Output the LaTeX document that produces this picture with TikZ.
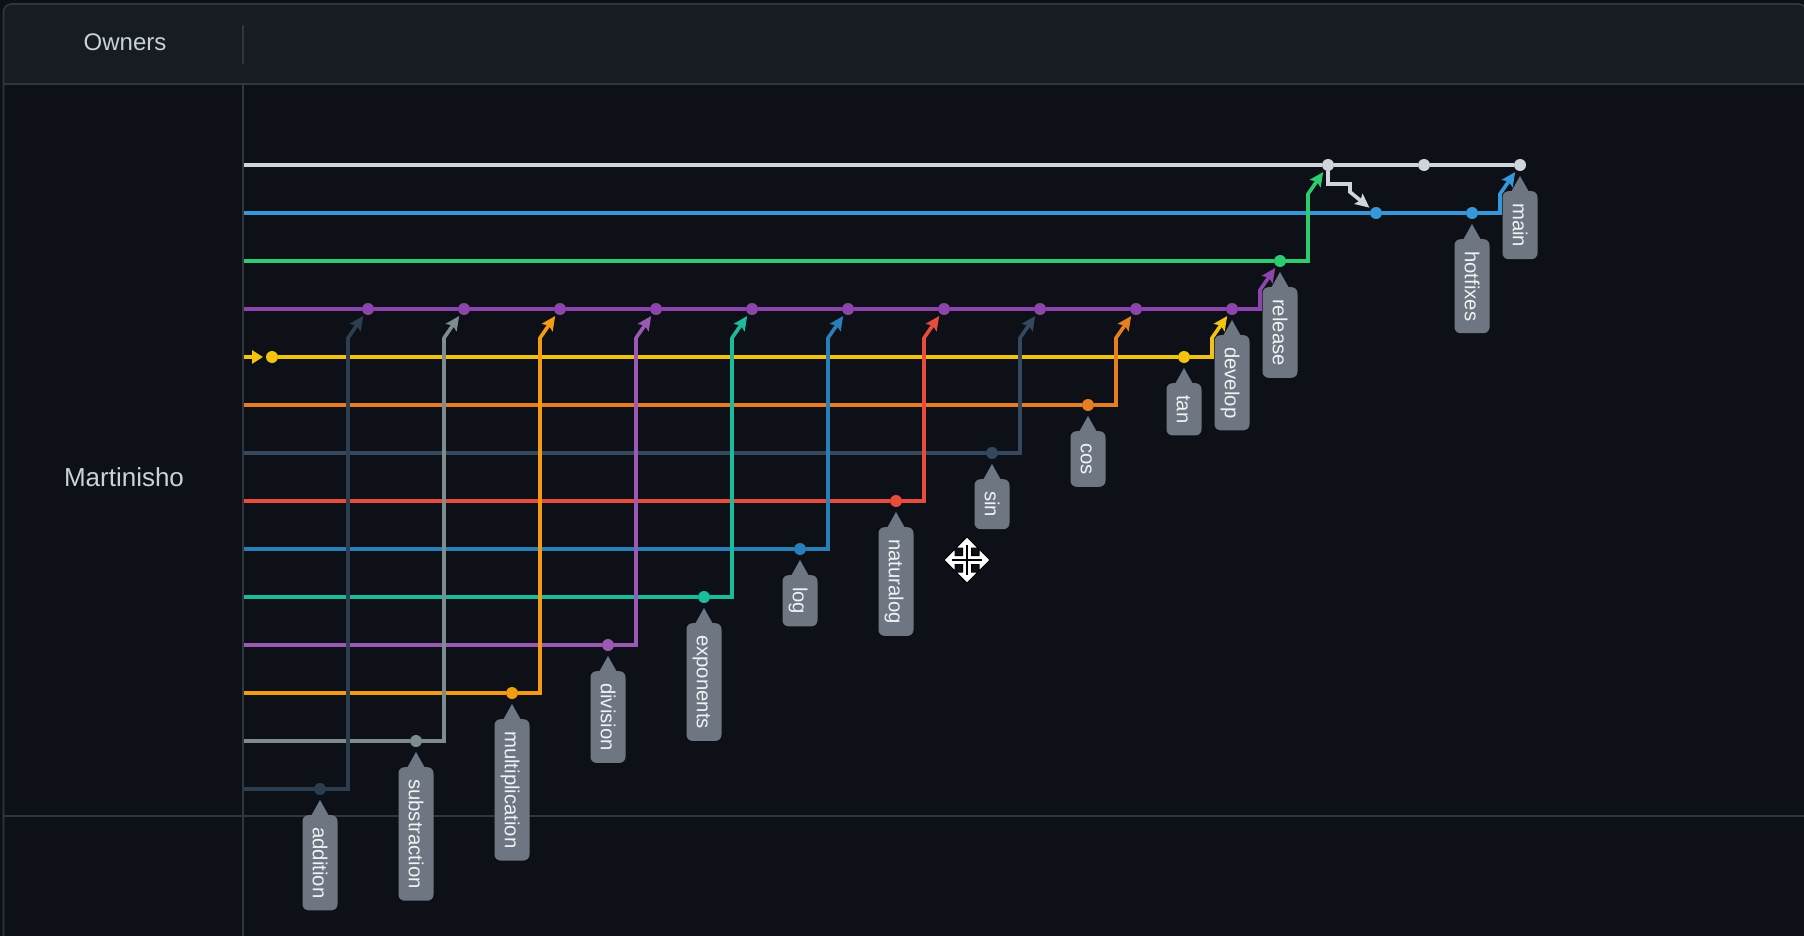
\documentclass[tikz,border=0pt]{standalone}
\usepackage{fontspec}
\setmainfont{Liberation Sans}
\usetikzlibrary{calc,arrows.meta}
\definecolor{bgpage}{HTML}{0D1117}
\definecolor{bghead}{HTML}{171B22}
\definecolor{bordc}{HTML}{30363D}
\definecolor{txtc}{HTML}{C9D1D9}
\definecolor{labc}{HTML}{6E7681}
\definecolor{labtxt}{HTML}{F0F3F6}
\definecolor{cmain}{HTML}{CFD5DB}
\definecolor{chot}{HTML}{3498DB}
\definecolor{crel}{HTML}{2ECC71}
\definecolor{cdev}{HTML}{8E44AD}
\definecolor{ctan}{HTML}{F1C40F}
\definecolor{ccos}{HTML}{E67E22}
\definecolor{csin}{HTML}{34495E}
\definecolor{cnat}{HTML}{E74C3C}
\definecolor{clog}{HTML}{2980B9}
\definecolor{cexp}{HTML}{1ABC9C}
\definecolor{cdiv}{HTML}{9B59B6}
\definecolor{cmul}{HTML}{F39C12}
\definecolor{csub}{HTML}{7F8C8D}
\definecolor{cadd}{HTML}{2C3E50}
\pgfdeclarelayer{back}
\pgfdeclarelayer{lines}
\pgfsetlayers{back,lines,main}
\tikzset{
  dot/.style={circle,fill=#1,inner sep=0pt,minimum size=12pt,outer sep=0pt},
  br/.style={draw=#1,line width=3.6pt},
  mg/.style={draw=#1,line width=3.6pt,-{Stealth[length=14pt,width=13pt,inset=2.5pt]},shorten >=2.5pt},
  lab/.style={rotate=-90,fill=labc,rounded corners=6pt,text=labtxt,
    font=\fontsize{20.3}{24}\selectfont,inner xsep=12pt,inner ysep=0pt,
    minimum height=35pt,text height=14.5pt,text depth=0pt,anchor=west},
  rowtext/.style={text=txtc,inner sep=0pt},
  rule/.style={draw=bordc,line width=1.6pt},
}
\newcommand\mergeto[3]{\draw[mg=#1] (#2) -- ($(#2 -| #3)+(-20,0)$) -- ($(#3)+(-20,29)$) -- (#3);}
\newcommand\brlabel[3]{%
  \fill[labc] ($(#1)+(-9,27)$) -- ($(#1)+(0,11)$) -- ($(#1)+(9,27)$) -- cycle;
  \node[lab] (#2) at ($(#1)+(0,26)$) {#3};}
\begin{document}
\begin{tikzpicture}[x=1pt,y=-1pt]
\useasboundingbox (0,0) rectangle (1804,936);
\begin{pgfonlayer}{back}
  \fill[bgpage] (0,0) rectangle (1804,936);
  \fill[bghead,rounded corners=8pt] (3.5,4) rectangle (1806,200);
  \fill[bgpage] (3.5,84) rectangle (1806,960);
  \draw[rule,rounded corners=8pt] (3.5,4) rectangle (1806.5,1000);
  \draw[rule] (3.5,84) -- (1806,84);
  \draw[rule] (3.5,816) -- (1806,816);
  \draw[rule] (243,84) -- (243,940);
  \draw[rule] (243,25) -- (243,64);
\end{pgfonlayer}
\node[rowtext,font=\fontsize{24}{28}\selectfont] (owners) at (125,42.5) {Owners};
\node[rowtext,font=\fontsize{26}{30}\selectfont] (martinisho) at (124,477) {Martinisho};
% start coordinates
\coordinate (s-main) at (244,165);
\coordinate (s-hot) at (244,213);
\coordinate (s-rel) at (244,261);
\coordinate (s-dev) at (244,309);
\coordinate (s-tan) at (244,357);
\coordinate (s-cos) at (244,405);
\coordinate (s-sin) at (244,453);
\coordinate (s-nat) at (244,501);
\coordinate (s-log) at (244,549);
\coordinate (s-exp) at (244,597);
\coordinate (s-div) at (244,645);
\coordinate (s-mul) at (244,693);
\coordinate (s-sub) at (244,741);
\coordinate (s-add) at (244,789);
% commits
\node[dot=cmain] (m1) at (1328,165) {};
\node[dot=cmain] (m2) at (1424,165) {};
\node[dot=cmain] (m3) at (1520,165) {};
\node[dot=chot] (h1) at (1376,213) {};
\node[dot=chot] (h2) at (1472,213) {};
\node[dot=crel] (r1) at (1280,261) {};
\foreach \i/\x in {1/368,2/464,3/560,4/656,5/752,6/848,7/944,8/1040,9/1136,10/1232}
  {\node[dot=cdev] (d\i) at (\x,309) {};}
\node[dot=ctan] (t0) at (272,357) {};
\node[dot=ctan] (t1) at (1184,357) {};
\node[dot=ccos] (cos1) at (1088,405) {};
\node[dot=csin] (sin1) at (992,453) {};
\node[dot=cnat] (nat1) at (896,501) {};
\node[dot=clog] (log1) at (800,549) {};
\node[dot=cexp] (exp1) at (704,597) {};
\node[dot=cdiv] (div1) at (608,645) {};
\node[dot=cmul] (mul1) at (512,693) {};
\node[dot=csub] (sub1) at (416,741) {};
\node[dot=cadd] (add1) at (320,789) {};
\begin{pgfonlayer}{lines}
  \draw[br=cmain] (s-main) -- (m1) -- (m2) -- (m3);
  \draw[br=chot] (s-hot) -- (h1) -- (h2);
  \draw[br=crel] (s-rel) -- (r1);
  \draw[br=cdev] (s-dev) -- (d1) -- (d2) -- (d3) -- (d4) -- (d5) -- (d6) -- (d7) -- (d8) -- (d9) -- (d10);
  \draw[br=ctan,-{Triangle[length=11pt,width=13pt]},shorten >=3pt] (s-tan) -- (t0);
  \draw[br=ctan] (t0) -- (t1);
  \draw[br=ccos] (s-cos) -- (cos1);
  \draw[br=csin] (s-sin) -- (sin1);
  \draw[br=cnat] (s-nat) -- (nat1);
  \draw[br=clog] (s-log) -- (log1);
  \draw[br=cexp] (s-exp) -- (exp1);
  \draw[br=cdiv] (s-div) -- (div1);
  \draw[br=cmul] (s-mul) -- (mul1);
  \draw[br=csub] (s-sub) -- (sub1);
  \draw[br=cadd] (s-add) -- (add1);
  \mergeto{cadd}{add1}{d1}
  \mergeto{csub}{sub1}{d2}
  \mergeto{cmul}{mul1}{d3}
  \mergeto{cdiv}{div1}{d4}
  \mergeto{cexp}{exp1}{d5}
  \mergeto{clog}{log1}{d6}
  \mergeto{cnat}{nat1}{d7}
  \mergeto{csin}{sin1}{d8}
  \mergeto{ccos}{cos1}{d9}
  \mergeto{ctan}{t1}{d10}
  \mergeto{cdev}{d10}{r1}
  \mergeto{crel}{r1}{m1}
  \mergeto{chot}{h2}{m3}
  \draw[mg=cmain] (m1) -- ++(0,19) -- ++(22,0) -- ++(0,8) -- (h1);
\end{pgfonlayer}
% labels
\brlabel{add1}{l-add}{addition}
\brlabel{sub1}{l-sub}{substraction}
\brlabel{mul1}{l-mul}{multiplication}
\brlabel{div1}{l-div}{division}
\brlabel{exp1}{l-exp}{exponents}
\brlabel{log1}{l-log}{log}
\brlabel{nat1}{l-nat}{naturalog}
\brlabel{sin1}{l-sin}{sin}
\brlabel{cos1}{l-cos}{cos}
\brlabel{t1}{l-tan}{tan}
\brlabel{d10}{l-dev}{develop}
\brlabel{r1}{l-rel}{release}
\brlabel{h2}{l-hot}{hotfixes}
\brlabel{m3}{l-main}{main}
% move cursor
\begin{scope}[shift={(967,560)}]
  \filldraw[fill=white,draw=black,line width=1pt,line join=miter]
    (0,-23) -- (11,-12) -- (4.5,-12) -- (4.5,-4.5) -- (12,-4.5) -- (12,-11) -- (23,0)
    -- (12,11) -- (12,4.5) -- (4.5,4.5) -- (4.5,12) -- (11,12) -- (0,23)
    -- (-11,12) -- (-4.5,12) -- (-4.5,4.5) -- (-12,4.5) -- (-12,11) -- (-23,0)
    -- (-12,-11) -- (-12,-4.5) -- (-4.5,-4.5) -- (-4.5,-12) -- (-11,-12) -- cycle;
  \draw[black,line width=2.5pt] (-15,0) -- (15,0) (0,-15) -- (0,15);
\end{scope}
\end{tikzpicture}
\end{document}
